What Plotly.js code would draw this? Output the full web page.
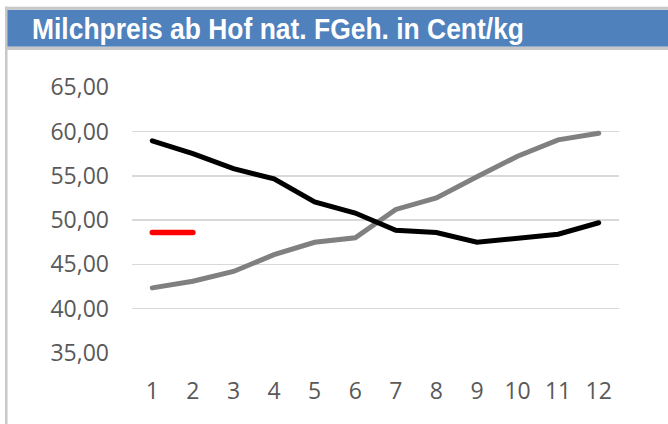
<!DOCTYPE html>
<html>
<head>
<meta charset="utf-8">
<script src="https://cdn.plot.ly/plotly-3.0.1.min.js"></script>
<style>html,body{margin:0;padding:0;background:#fff;}#chart{width:668px;height:424px;}path.js-line{stroke-linecap:round;}</style>
</head>
<body>
<div id="chart"></div>
<script>
// Data
const months = [1, 2, 3, 4, 5, 6, 7, 8, 9, 10, 11, 12];
const tickLabels = ['1','2','3','4','5','6','7','8','9','10','11','12'];
const blackSeries = [58.95, 57.5, 55.8, 54.65, 52.05, 50.8, 48.85, 48.6, 47.5, 47.95, 48.4, 49.7];
const greySeries = [42.35, 43.1, 44.2, 46.1, 47.5, 48.0, 51.2, 52.5, 54.9, 57.2, 59.05, 59.8];
const redSeries = [48.6, 48.6, null, null, null, null, null, null, null, null, null, null];
const titleText = 'Milchpreis ab Hof nat. FGeh. in Cent/kg';

const W = 668, H = 424;
const mL = 132, mR = 49, mT = 87, mB = 71;
const pw = W - mL - mR, ph = H - mT - mB;
const px = v => (v - mL) / pw;          // pixel x -> paper x
const py = v => (H - mB - v) / ph;      // pixel y -> paper y

const traces = [
  {x: months, y: greySeries, type: 'scatter', mode: 'lines', line: {color: '#808080', width: 5}, hoverinfo: 'skip'},
  {x: months, y: blackSeries, type: 'scatter', mode: 'lines', line: {color: '#000000', width: 5}, hoverinfo: 'skip'},
  {x: months, y: redSeries, type: 'scatter', mode: 'lines', line: {color: '#FF0000', width: 5.5}, connectgaps: false, hoverinfo: 'skip'}
];

const layout = {
  width: W, height: H,
  margin: {l: mL, r: mR, t: mT, b: mB, pad: 0},
  paper_bgcolor: '#ffffff', plot_bgcolor: '#ffffff',
  showlegend: false,
  separators: ',.',
  font: {family: 'Open Sans, sans-serif', size: 23, color: '#595959'},
  title: {
    text: titleText,
    font: {family: 'Liberation Sans, Arial, sans-serif', size: 29, color: '#ffffff', weight: 'bold'},
    xref: 'container', yref: 'container',
    x: 32 / W, xanchor: 'left',
    y: 1 - 28.5 / H, yanchor: 'middle'
  },
  xaxis: {
    range: [0.5, 12.5],
    tickmode: 'array', tickvals: months, ticktext: tickLabels,
    showgrid: false, zeroline: false, showline: false, ticks: '',
    ticklabelstandoff: 22,
    tickfont: {family: 'Open Sans, sans-serif', size: 23, color: '#595959'},
    fixedrange: true
  },
  yaxis: {
    range: [35, 65.02],
    dtick: 5, tick0: 35,
    tickformat: '.2f',
    showgrid: true, gridcolor: '#d9d9d9', gridwidth: 1.5,
    zeroline: false, showline: false, ticks: '',
    ticklabelstandoff: 22,
    tickfont: {family: 'Open Sans, sans-serif', size: 23, color: '#595959'},
    fixedrange: true
  },
  shapes: [
    // blue title band
    {type: 'rect', xref: 'paper', yref: 'paper', x0: px(7), x1: px(680), y0: py(46.7), y1: py(9.7), fillcolor: '#4F81BD', line: {width: 0}, layer: 'below'},
    // grey top border
    {type: 'rect', xref: 'paper', yref: 'paper', x0: px(5), x1: px(680), y0: py(9.7), y1: py(6.7), fillcolor: '#c8c8c8', line: {width: 0}, layer: 'below'},
    // grey line under band
    {type: 'rect', xref: 'paper', yref: 'paper', x0: px(5), x1: px(680), y0: py(50), y1: py(46.7), fillcolor: '#c8c8c8', line: {width: 0}, layer: 'below'},
    // grey left border
    {type: 'rect', xref: 'paper', yref: 'paper', x0: px(5), x1: px(7.5), y0: py(430), y1: py(6.7), fillcolor: '#c8c8c8', line: {width: 0}, layer: 'below'}
  ]
};

Plotly.newPlot('chart', traces, layout, {staticPlot: true, displayModeBar: false}).then(gd => {
  const t = gd.querySelector('.gtitle');
  if (t) {
    t.setAttribute('textLength', '492');
    t.setAttribute('lengthAdjust', 'spacingAndGlyphs');
  }
});
</script>
</body>
</html>
